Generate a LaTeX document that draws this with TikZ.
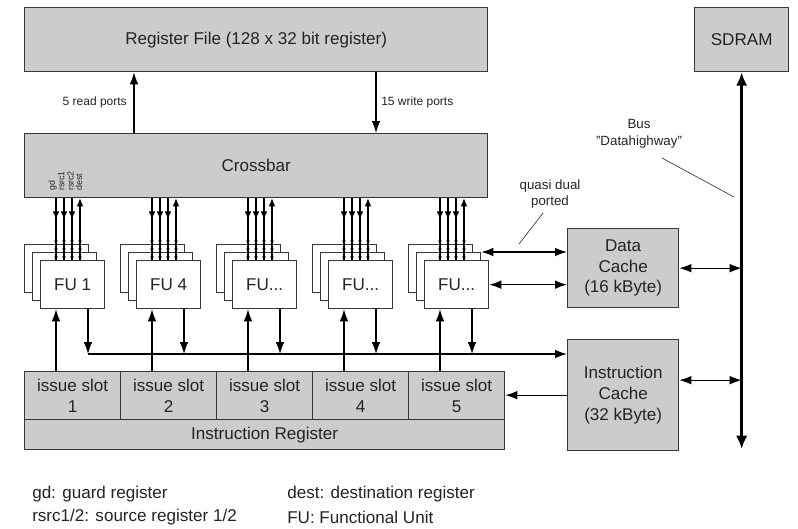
\documentclass[tikz,border=0pt]{standalone}
\usepackage{fontspec}
\setmainfont{Liberation Sans}
\usetikzlibrary{arrows.meta,calc}
\definecolor{boxgray}{RGB}{204,204,204}
\definecolor{edgecol}{RGB}{55,55,55}
\definecolor{ink}{RGB}{35,35,35}
\newcommand{\mainfs}{\fontsize{12.8pt}{15.5pt}\selectfont}
\newcommand{\smallfs}{\fontsize{9pt}{11pt}\selectfont}
\newcommand{\midfs}{\fontsize{10pt}{12.5pt}\selectfont}
\newcommand{\tinyfs}{\fontsize{6.6pt}{7pt}\selectfont}
\newcommand{\fudots}{FU...}
\tikzset{
  box/.style={draw=edgecol, fill=boxgray, line width=1pt, inner sep=0pt, anchor=north west, align=center, font=\mainfs, text=ink},
  fubox/.style={draw=edgecol, fill=white, line width=1pt, inner sep=0pt, anchor=north west, minimum width=48pt, minimum height=36pt, font=\mainfs, text=ink},
  arr/.style={line width=0.9pt, -{Latex[length=9pt,width=6.5pt]}},
  darr/.style={line width=0.9pt, {Latex[length=9pt,width=6.5pt]}-{Latex[length=9pt,width=6.5pt]}},
  sarr/.style={line width=0.8pt, -{Latex[length=6pt,width=5pt]}},
  tarr/.style={line width=0.8pt, -{Latex[length=2.5pt,width=3pt]}},
  busarr/.style={line width=1.9pt, {Latex[length=10pt,width=8.5pt]}-{Latex[length=10pt,width=8.5pt]}},
  leader/.style={line width=0.5pt, draw=edgecol},
  lbl/.style={text=ink, inner sep=0pt},
}
\begin{document}
\begin{tikzpicture}[x=0.75pt,y=-0.75pt]
\useasboundingbox (0,0) rectangle (798,528);
% main boxes
\node[box, minimum width=347.25pt, minimum height=48pt] (rf) at (24,7) {Register File (128 x 32 bit register)};
\node[box, minimum width=70.5pt, minimum height=48pt] (sdram) at (694,7) {SDRAM};
\node[box, minimum width=347.25pt, minimum height=48pt] (xbar) at (24,133) {Crossbar};
\node[box, minimum width=83.25pt, minimum height=59.25pt] (dcache) at (567,228) {Data\\Cache\\(16 kByte)};
\node[box, minimum width=83.25pt, minimum height=83.25pt] (icache) at (567,339) {Instruction\\Cache\\(32 kByte)};
\foreach \i in {1,2,3,4,5}{
  \node[box, minimum width=72pt, minimum height=36pt] (slot\i) at ({24+96*(\i-1)},371) {issue slot\\\i};
}
\node[box, minimum width=360pt, minimum height=22.5pt] (ireg) at (24,419) {Instruction Register};
% crossbar labels
\foreach \t/\x [count=\k] in {gd/52.5,rsrc1/61.5,rsrc2/70.5,dest/79}{
  \node[lbl, font=\tinyfs, rotate=90, anchor=west] (cl\k) at (\x,191) {\t};
}
% register file ports
\draw[arr] ($(xbar.north west)+(110,0)$) -- ($(rf.south west)+(110,0)$);
\draw[arr] ($(rf.south west)+(352,0)$) -- ($(xbar.north west)+(352,0)$);
\node[lbl, font=\smallfs, anchor=east] (rdl) at (127,102) {5 read ports};
\node[lbl, font=\smallfs, anchor=west] (wrl) at (381,102) {15 write ports};
% FU stacks
\coordinate (hstart) at (88,354);
\foreach \i/\t in {1/{FU 1},2/{FU 4},3/\fudots,4/\fudots,5/\fudots}{
  \pgfmathsetmacro{\L}{40+96*(\i-1)}
  \node[fubox] (b\i) at ({\L-16},244) {};
  \node[fubox] (m\i) at ({\L-8},252) {};
  \node[fubox] (f\i) at (\L,260) {\t};
  \foreach \dx in {16,24,32}{
    \coordinate (p) at ($(f\i.north west)+(\dx,0)$);
    \draw[line width=0.8pt] (p |- xbar.south) -- (p);
    \draw[sarr] (p |- xbar.south) -- ++(0,21);
  }
  \coordinate (q) at ($(f\i.north west)+(40,0)$);
  \draw[sarr] (q) -- (q |- xbar.south);
  \foreach \dx in {16,24,32,40}{
    \coordinate (p) at ($(f\i.north west)+(\dx,0)$);
    \draw[tarr] ($(p)+(0,-19)$) -- ($(p)+(0,-16)$);
    \draw[tarr] ($(p)+(0,-11)$) -- ($(p)+(0,-8)$);
    \draw[tarr] ($(p)+(0,-3)$) -- (p);
  }
  \coordinate (u) at ($(f\i.south west)+(16,0)$);
  \draw[arr] (u |- slot\i.north) -- (u);
  \coordinate (d) at ($(f\i.south west)+(48,0)$);
  \draw[arr] (d) -- (d |- hstart);
}
\draw[arr] (hstart) -- (hstart -| icache.west);
% data cache links
\draw[darr] (m5.north east) -- (m5.north east -| dcache.west);
\draw[darr] (f5.east) -- (f5.east -| dcache.west);
% bus
\coordinate (busbot) at (sdram.south |- 0,449);
\draw[busarr] (sdram.south) -- (busbot);
\draw[darr] (dcache.east) -- (dcache.east -| busbot);
\coordinate (icb) at ($(icache.east)+(0,-15)$);
\draw[darr] (icb) -- (icb -| busbot);
\draw[arr] (icache.west) -- (icache.west -| slot5.east);
% annotations
\node[lbl, font=\midfs, align=center] (busl) at (639,134) {Bus\\\symbol{34}Datahighway\symbol{34}};
\coordinate (bl1) at (662,158);
\coordinate (bl2) at (734,197);
\draw[leader] (bl1) -- (bl2);
\node[lbl, font=\midfs, align=center] (qdp) at (550,194) {quasi dual\\ported};
\coordinate (ql1) at (543,213);
\coordinate (ql2) at (519,244);
\draw[leader] (ql1) -- (ql2);
% legend
\node[lbl, font=\mainfs, anchor=west] (lg1) at (32,494) {gd: guard register};
\node[lbl, font=\mainfs, anchor=west] (lg2) at (32,517) {rsrc1/2: source register 1/2};
\node[lbl, font=\mainfs, anchor=west] (lg3) at (287,494) {dest: destination register};
\node[lbl, font=\mainfs, anchor=west] (lg4) at (287,517) {FU: Functional Unit};
\end{tikzpicture}
\end{document}
